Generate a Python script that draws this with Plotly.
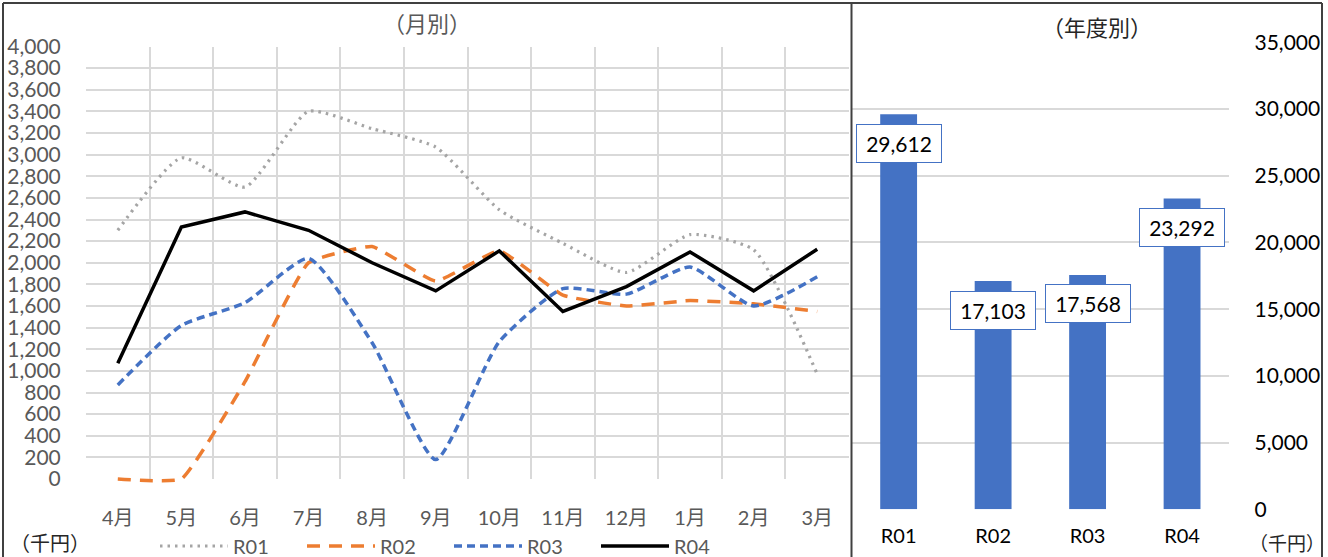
import plotly.graph_objects as go

W, H = 1328, 557

months = ["4月", "5月", "6月", "7月", "8月", "9月", "10月", "11月", "12月", "1月", "2月", "3月"]
r01 = [2300, 2970, 2700, 3400, 3240, 3070, 2490, 2180, 1910, 2260, 2120, 970]
r02 = [0, 0, 900, 2000, 2150, 1830, 2110, 1700, 1600, 1650, 1620, 1550]
r03 = [870, 1420, 1630, 2040, 1260, 180, 1270, 1760, 1710, 1960, 1600, 1870]
r04 = [1070, 2330, 2470, 2300, 2000, 1740, 2110, 1550, 1780, 2100, 1740, 2125]

years = ["R01", "R02", "R03", "R04"]
year_totals = [29612, 17103, 17568, 23292]
year_labels = ["29,612", "17,103", "17,568", "23,292"]

left_ticks = list(range(0, 4001, 200))
right_ticks = list(range(0, 35001, 5000))

FONT = "Lato, 'Noto Sans CJK JP', sans-serif"
CJK = "'Noto Sans CJK JP', sans-serif"
GRAY = "#595959"
GRID = "#D9D9D9"

# pixel geometry of the monthly plot area
L_LEFT, L_RIGHT, L_BOTTOM, L_TOP = 86, 849, 479, 46.5
EXTRA = 10  # extra room under the zero line so the lines are not clipped there
L_MAX = 4000
L_MIN_EXT = -EXTRA * L_MAX / (L_BOTTOM - L_TOP)


def px_x(p):
    return p / W


def px_y(p):
    return (H - p) / H


fig = go.Figure()

# invisible carrier so the visible month axes (grid + labels) get drawn
fig.add_trace(go.Scatter(x=months, y=r04, mode="lines", line=dict(width=0, color="rgba(0,0,0,0)"),
                         hoverinfo="skip", showlegend=False, xaxis="x", yaxis="y"))

series = [
    ("R01", r01, dict(color="#A5A5A5", width=3.2, dash="2.5px,5px"), "spline", 0.55),
    ("R02", r02, dict(color="#ED7D31", width=3.5, dash="13px,9px"), "spline", 0.35),
    ("R03", r03, dict(color="#4472C4", width=3.5, dash="8px,5px"), "spline", 0.55),
    ("R04", r04, dict(color="#000000", width=3.5), "linear", 0),
]
for name, vals, line, shape, smooth in series:
    ln = dict(line)
    ln["shape"] = shape
    if shape == "spline":
        ln["smoothing"] = smooth
    fig.add_trace(go.Scatter(x=months, y=vals, name=name, mode="lines", line=ln,
                             xaxis="x3", yaxis="y3"))

fig.add_trace(go.Bar(x=years, y=year_totals, marker=dict(color="#4472C4", line=dict(width=0)),
                     width=0.39, showlegend=False, xaxis="x2", yaxis="y2"))

for cat, val, lab in zip(years, year_totals, year_labels):
    fig.add_annotation(x=cat, y=val, xref="x2", yref="y2", text=lab, showarrow=False,
                       yshift=-29, font=dict(family=FONT, size=21, color="#000000"),
                       bgcolor="#FFFFFF", bordercolor="#4472C4", borderwidth=1,
                       borderpad=5, width=74, height=27)


def paper_text(x, y, text, size, color, family=CJK):
    fig.add_annotation(x=px_x(x), y=px_y(y), xref="paper", yref="paper", text=text,
                       xanchor="center", yanchor="middle", showarrow=False,
                       font=dict(family=family, size=size, color=color))


# titles and unit labels
paper_text(427, 22, "（月別）", 22, GRAY)
paper_text(1097, 26, "（年度別）", 22, "#262626")
paper_text(50, 542, "（千円）", 20, "#262626")
paper_text(1287, 542, "（千円）", 19, "#262626")

# borders
border = dict(color="#404040", width=2)
fig.add_shape(type="line", xref="paper", yref="paper", x0=px_x(3), x1=px_x(1322), y0=px_y(3), y1=px_y(3), line=border)
fig.add_shape(type="line", xref="paper", yref="paper", x0=px_x(3), x1=px_x(3), y0=px_y(3), y1=0, line=border)
fig.add_shape(type="line", xref="paper", yref="paper", x0=px_x(851.5), x1=px_x(851.5), y0=px_y(3), y1=0, line=border)
fig.add_shape(type="line", xref="paper", yref="paper", x0=px_x(1322), x1=px_x(1322), y0=px_y(3), y1=0, line=border)

fig.update_layout(
    template="none",
    width=W, height=H,
    margin=dict(l=0, r=0, t=0, b=0, autoexpand=False),
    paper_bgcolor="#FFFFFF", plot_bgcolor="rgba(0,0,0,0)",
    font=dict(family=FONT, color=GRAY),
    showlegend=True,
    legend=dict(orientation="h", x=px_x(155), y=px_y(546), xanchor="left", yanchor="middle",
                font=dict(family=FONT, size=20, color=GRAY), itemwidth=68, entrywidth=64,
                bgcolor="rgba(0,0,0,0)", traceorder="normal"),
    bargap=0.61,
    # visible monthly axes (grid + labels)
    xaxis=dict(domain=[px_x(L_LEFT), px_x(L_RIGHT)], type="category", tickson="boundaries",
               categoryorder="array", categoryarray=months,
               range=[-0.5, 11.5], automargin=False, ticklabelstandoff=25,
               showgrid=True, gridcolor=GRID, gridwidth=1.5, showline=False, zeroline=False,
               ticks="", tickfont=dict(family=FONT, size=20, color=GRAY), fixedrange=True,
               anchor="y"),
    yaxis=dict(domain=[px_y(L_BOTTOM), px_y(L_TOP)], range=[0, L_MAX], tickvals=left_ticks,
               automargin=False,
               tickformat=",d", showgrid=True, gridcolor=GRID, gridwidth=1.5, zeroline=False,
               showline=False, ticks="outside", ticklen=20, tickcolor="rgba(0,0,0,0)",
               tickfont=dict(family=FONT, size=21, color=GRAY), anchor="x"),
    # same scales for the lines, with a little room below zero
    xaxis3=dict(domain=[px_x(L_LEFT), px_x(L_RIGHT)], type="category",
                categoryorder="array", categoryarray=months, range=[-0.5, 11.5],
                visible=False, showgrid=False, zeroline=False, automargin=False, anchor="y3"),
    yaxis3=dict(domain=[px_y(L_BOTTOM + EXTRA), px_y(L_TOP)], range=[L_MIN_EXT, L_MAX],
                visible=False, showgrid=False, zeroline=False, automargin=False, anchor="x3"),
    xaxis2=dict(domain=[px_x(851.4), px_x(1229.3)], type="category", showgrid=False,
                range=[-0.5, 3.5], automargin=False,
                showline=False, zeroline=False, ticks="outside", ticklen=9,
                tickcolor="rgba(0,0,0,0)", tickfont=dict(family=FONT, size=20, color="#000000"),
                anchor="y2"),
    yaxis2=dict(domain=[px_y(509.3), px_y(42.3)], range=[0, 35000], tickvals=right_ticks,
                automargin=False,
                tickformat=",d", side="right", showgrid=True, gridcolor=GRID, gridwidth=1.5,
                zeroline=False, showline=False, ticks="outside", ticklen=20,
                tickcolor="rgba(0,0,0,0)", tickfont=dict(family=FONT, size=21, color="#000000"),
                anchor="x2"),
)

fig.write_html("out.html", config={"displayModeBar": False},
               post_script="document.body.style.margin='0px';")
